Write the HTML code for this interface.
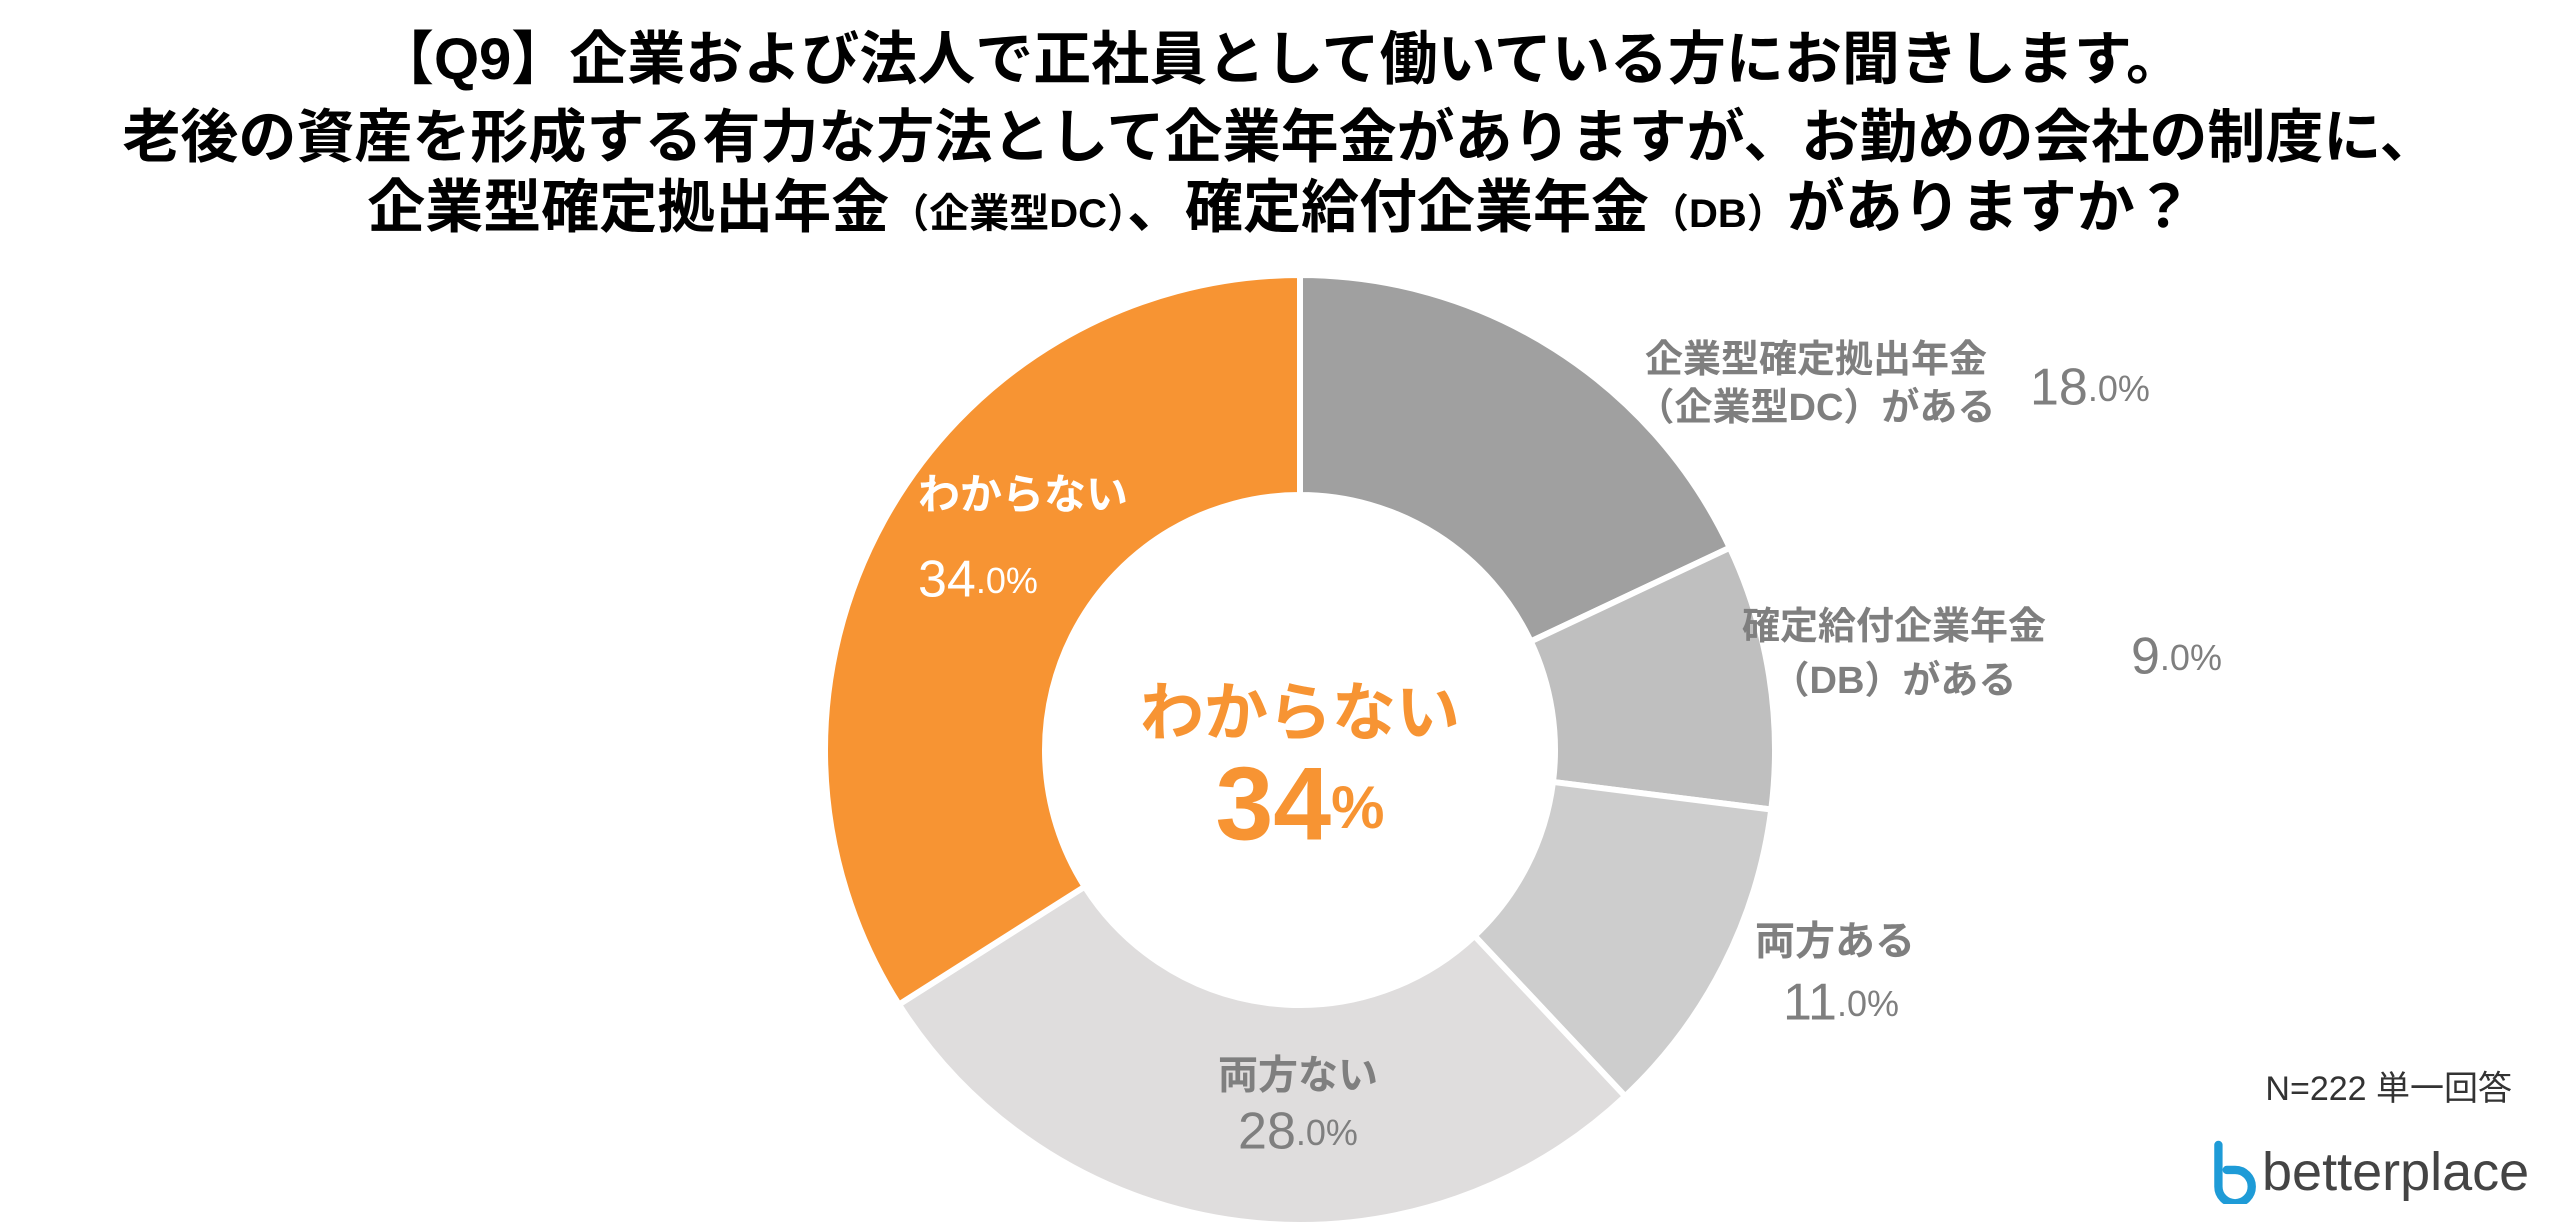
<!DOCTYPE html>
<html><head><meta charset="utf-8"><style>
body{margin:0;width:2560px;height:1231px;background:#fff;overflow:hidden;font-family:"Liberation Sans","Noto Sans CJK JP",sans-serif}
.t{position:absolute;left:0;width:2560px;text-align:center;font-weight:bold;font-size:58px;color:#000;line-height:1}
</style></head><body>
<div class="t" style="top:31px">【Q9】企業および法人で正社員として働いている方にお聞きします。</div>
<div class="t" style="top:109px">老後の資産を形成する有力な方法として企業年金がありますが、お勤めの会社の制度に、</div>
<div class="t" style="top:179px">企業型確定拠出年金<span style="font-size:40px">（企業型DC）</span>、確定給付企業年金<span style="font-size:40px">（DB）</span>がありますか？</div>
<svg id="chart" width="2560" height="1231" style="position:absolute;left:0;top:0"></svg>
<script>
const categories=["企業型確定拠出年金（企業型DC）がある","確定給付企業年金（DB）がある","両方ある","両方ない","わからない"];
const values=[18.0,9.0,11.0,28.0,34.0];
const colors=["#a0a0a0","#bfbfbf","#cdcdcd","#dfdddd","#f79433"];
const svg=document.getElementById('chart');
const NS="http://www.w3.org/2000/svg";
const cx=1300,cy=750,R=475,r=255;
const total=values.reduce((a,b)=>a+b,0);
function pt(a,rad){return [cx+rad*Math.sin(a),cy-rad*Math.cos(a)];}
let acc=0;
values.forEach((v,i)=>{
 const a0=acc/total*2*Math.PI;acc+=v;const a1=acc/total*2*Math.PI;
 const large=(a1-a0)>Math.PI?1:0;
 const [x0,y0]=pt(a0,R),[x1,y1]=pt(a1,R),[x2,y2]=pt(a1,r),[x3,y3]=pt(a0,r);
 const p=document.createElementNS(NS,'path');
 p.setAttribute('d',`M${x0},${y0}A${R},${R} 0 ${large} 1 ${x1},${y1}L${x2},${y2}A${r},${r} 0 ${large} 0 ${x3},${y3}Z`);
 p.setAttribute('fill',colors[i]);p.setAttribute('stroke','#fff');p.setAttribute('stroke-width','6');
 
 
 svg.appendChild(p);
});
function txt(x,y,s,size,color,anchor,name,weight){
 const t=document.createElementNS(NS,'text');
 t.setAttribute('x',x);t.setAttribute('y',y);t.setAttribute('font-size',size);t.setAttribute('fill',color);
 t.setAttribute('text-anchor',anchor||'start');t.setAttribute('font-weight',weight||'bold');
 t.setAttribute('font-family','"Liberation Sans","Noto Sans CJK JP",sans-serif');
 t.setAttribute('dominant-baseline','middle');
 t.innerHTML=s;
 
 
 svg.appendChild(t);return t;
}
function pct(x,y,v,color,anchor,name){
 const s=v.toFixed(1).split('.');
 return txt(x,y,`${s[0]}<tspan font-size="36">.${s[1]}%</tspan>`,52,color,anchor,name,'normal');
}
const G="#7f7f7f";
txt(1816,362,"企業型確定拠出年金",38,G,'middle','label-dc-line1');
txt(1816,410,"（企業型DC）がある",38,G,'middle','label-dc-line2');
pct(2030,391,values[0],G,'start','value-dc');
txt(1894,629,"確定給付企業年金",38,G,'middle','label-db-line1');
txt(1894,683,"（DB）がある",38,G,'middle','label-db-line2');
pct(2131,660,values[1],G,'start','value-db');
txt(1755,944,"両方ある",40,G,'start','label-both');
pct(1783,1006,values[2],G,'start','value-both');
txt(1298,1078,"両方ない",40,G,'middle','label-neither');
pct(1298,1135,values[3],G,'middle','value-neither');
txt(918,498,"わからない",42,"#fff",'start','label-unknown');
pct(918,583,values[4],"#fff",'start','value-unknown');
txt(1300,718,"わからない",64,"#f79433",'middle','center-label');
txt(1300,812,`${Math.round(values[4])}<tspan font-size="60">%</tspan>`,104,"#f79433",'middle','center-value');
txt(2512,1091,"N=222 単一回答",34,"#333",'end','sample-note','normal');
</script>
<div style="position:absolute;left:2208px;top:1140px;height:64px;display:flex;align-items:center">
<svg width="50" height="64" viewBox="0 0 48 60"><path d="M10 4 V44 A16 16 0 1 0 26 28 H18" fill="none" stroke="#1e9bd7" stroke-width="8" stroke-linecap="round"/></svg>
<span style="font-size:54px;color:#444;margin-left:4px;font-family:'Liberation Sans',sans-serif">betterplace</span></div>
</body></html>
